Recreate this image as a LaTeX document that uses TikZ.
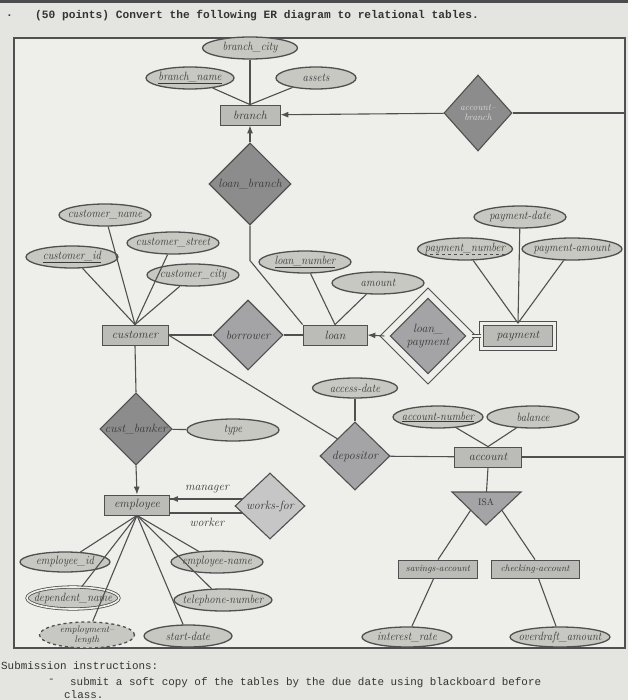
\documentclass[tikz,border=0pt]{standalone}
\usepackage{fontspec}
\usepackage{graphicx}
\setmonofont{Liberation Mono}
\usetikzlibrary{arrows.meta,positioning,calc,backgrounds,shapes.geometric}
\definecolor{page}{HTML}{E4E4E0}
\definecolor{paper}{HTML}{EEEEEA}
\definecolor{entfill}{HTML}{BBBBB7}
\definecolor{attfill}{HTML}{C8C8C2}
\definecolor{reldk}{HTML}{8C8C8C}
\definecolor{relmd}{HTML}{A4A4A6}
\definecolor{rellt}{HTML}{C6C6C6}
\definecolor{ink}{HTML}{505050}
\definecolor{inkt}{HTML}{383838}
\newcommand{\erfont}{\fontsize{12}{13}\selectfont\itshape}
\newcommand{\smfont}{\fontsize{9.5}{10}\selectfont\itshape}
\tikzset{>=Latex,link/.style={draw=ink,line width=1.1pt},arr/.style={link,->},
ent/.style={draw=ink,line width=0.8pt,fill=entfill,minimum width=64,minimum height=20,inner sep=1pt,font=\erfont,text=inkt},
weakent/.style={ent,double=paper,double distance=3pt},
attr/.style={ellipse,draw=ink,line width=1.3pt,fill=attfill,minimum width=92,minimum height=22,inner sep=0pt,font=\erfont,text=inkt,
  execute at begin node={\setbox0=\hbox\bgroup},execute at end node={\egroup\hbox to 0pt{\hss\scalebox{.9}[1]{\box0}\hss}}},
rel/.style={diamond,draw=ink,line width=1.1pt,fill=relmd,minimum width=70,minimum height=70,inner sep=0pt,font=\erfont,text=inkt,align=center},
reldark/.style={rel,fill=reldk},rellight/.style={rel,fill=rellt},
idrel/.style={rel,double=paper,double distance=6pt},
role/.style={font=\erfont,text=inkt,inner sep=1pt},
doc/.style={font=\ttfamily,anchor=west,inner sep=0pt,text=black!80}}

\begin{document}
\begin{tikzpicture}[x=1pt,y=-1pt]
\useasboundingbox (0,0) rectangle (628,700);
\begin{scope}[on background layer]
\fill[page] (0,0) rectangle (628,700);
\fill[black!70] (0,0) rectangle (628,3);
\draw[ink,line width=2.2pt,fill=paper] (14,38) rectangle (625,648);
\end{scope}
\node[doc,font=\ttfamily\bfseries\fontsize{11.2}{12}\selectfont] (dot) at (6,16) {.};
\node[doc,font=\ttfamily\bfseries\fontsize{11.2}{12}\selectfont] (title) at (35,16) {(50 points) Convert the following ER diagram to relational tables.};
\node[doc,font=\ttfamily\fontsize{10.9}{12}\selectfont] (sub) at (1,666) {Submission instructions:};
\node[doc,font=\ttfamily\fontsize{10.9}{12}\selectfont] (dash) at (48,681) {-};
\node[doc,font=\ttfamily\fontsize{10.9}{12}\selectfont] (sub1) at (70,683) {submit a soft copy of the tables by the due date using blackboard before};
\node[doc,font=\ttfamily\fontsize{10.9}{12}\selectfont] (sub2) at (64,695) {class.};

\node[attr,minimum width=95] (bcity) at (250,48) {branch\_city};
\node[attr,minimum width=88] (bname) at (190,78) {\underline{branch\_name}};
\node[attr,minimum width=80] (assets) at (316,78) {assets};
\node[ent,minimum width=60] (branch) at (250,115) {branch};
\node[reldark,minimum width=68,minimum height=76,text=white!85!black,font=\smfont] (acctbr) at (478,113) {account--\\branch};
\coordinate (rside) at (625,113);
\node[reldark,minimum width=82,minimum height=82] (lbranch) at (250,184) {loan\_branch};

\node[attr] (custname) at (105,215) {customer\_name};
\node[attr] (custstreet) at (173,243) {customer\_street};
\node[attr] (custid) at (72,257) {\underline{customer\_id}};
\node[attr] (custcity) at (193,275) {customer\_city};
\node[ent,minimum width=66] (customer) at (135,335) {customer};
\node[rel] (borrower) at (248,335) {borrower};
\node[ent] (loan) at (335,335) {loan};
\node[attr] (lnum) at (305,262) {\underline{loan\_number}};
\node[attr] (amount) at (378,283) {amount};
\node[idrel,minimum width=86,minimum height=86] (lpay) at (428,336) {loan\_\\payment};
\node[weakent,minimum width=73,minimum height=25] (payment) at (518,336) {payment};
\node[attr] (pdate) at (520,217) {payment-date};
\node[attr,minimum width=95] (pnum) at (465,249) {payment\_number};
\node[attr,minimum width=100] (pamt) at (572,249) {payment-amount};

\node[attr,minimum width=85,minimum height=20] (adate) at (355,388) {access-date};
\node[rel,minimum height=68] (depositor) at (355,456) {depositor};
\node[ent,minimum width=67] (account) at (488,457) {account};
\node[attr,minimum width=90] (anum) at (438,417) {\underline{account-number}};
\node[attr] (balance) at (533,417) {balance};
\coordinate (isaL) at (452,492); \coordinate (isaR) at (521,492);
\coordinate (isaB) at (486,525); \coordinate (isaT) at (486.5,492);
\draw[link,fill=relmd] (isaL) -- (isaR) -- (isaB) -- cycle;
\node[font=\fontsize{9.5}{9}\selectfont,text=inkt] (isa) at (486,502) {ISA};
\coordinate (isaLs) at ($(isaL)!.55!(isaB)$); \coordinate (isaRs) at ($(isaR)!.55!(isaB)$);
\node[ent,minimum width=79,minimum height=18,font=\smfont] (savings) at (438,569) {savings-account};
\node[ent,minimum width=88,minimum height=18,font=\smfont] (checking) at (535,569) {checking-account};
\node[attr,minimum width=90,minimum height=20] (irate) at (407,637) {interest\_rate};
\node[attr,minimum width=100,minimum height=20] (odamt) at (560,637) {overdraft\_amount};

\node[reldark,minimum width=72,minimum height=72] (custbank) at (136,429) {cust\_banker};
\node[attr] (type) at (233,430) {type};
\node[ent,minimum width=65] (employee) at (137,505) {employee};
\node[rellight,minimum height=66] (works) at (270,506) {works-for};
\node[role] (manager) at (207,489) {manager};
\node[role] (worker) at (207,522) {worker};
\coordinate (mgr) at (137,499); \coordinate (wkr) at (137,513);
\node[attr,minimum width=90,minimum height=20] (empid) at (65,562) {employee\_id};
\node[attr,line width=0.8pt,double=paper,double distance=1.6pt] (depname) at (73,598) {dependent\_name};
\node[ellipse,draw=ink,line width=1.3pt,fill=attfill,dashed,minimum width=95,minimum height=26,inner sep=0pt,align=center,font=\fontsize{9.5}{8.5}\selectfont\itshape,text=inkt] (emplen) at (87,635) {employment--\\length};
\node[attr] (empname) at (217,562) {employee-name};
\node[attr,minimum width=98] (tel) at (223,600) {telephone-number};
\node[attr,minimum width=88] (sdate) at (188,636) {start-date};

\draw[link,dashed] ([shift={(-41,3)}]pnum.base) -- ([shift={(41,3)}]pnum.base);
\foreach \a in {bcity,bname,assets}{\draw[link] (branch.north) -- (\a);}
\draw[arr] (acctbr) -- (branch);
\draw[link] (acctbr.east) -- (rside) |- (account.east);
\draw[arr] (lbranch.north) -- (branch.south);
\draw[link] (lbranch.south) -- ++(0,35) -- (loan.north west);
\foreach \a in {custname,custstreet,custid,custcity}{\draw[link] (customer.north) -- (\a);}
\draw[link] (customer) -- (borrower); \draw[link] (borrower) -- (loan);
\foreach \a in {lnum,amount}{\draw[link] (loan.north) -- (\a);}
\draw[arr] (lpay.west) -- (loan.east);
\draw[link,double=paper,double distance=2pt] (lpay.east) -- (payment.west);
\foreach \a in {pdate,pnum,pamt}{\draw[link] (payment.north) -- (\a);}
\draw[link] (customer.east) -- (depositor.north west);
\draw[link] (adate) -- (depositor); \draw[link] (depositor) -- (account);
\foreach \a in {anum,balance}{\draw[link] (account.north) -- (\a);}
\draw[link] (account.south) -- (isaT);
\draw[link] (isaLs) -- (savings.north); \draw[link] (isaRs) -- (checking.north);
\draw[link] (savings) -- (irate); \draw[link] (checking) -- (odamt);
\draw[link] (customer.south) -- (custbank.north);
\draw[link] (custbank) -- (type);
\draw[arr] (custbank.south) -- (employee.north);
\foreach \a in {empid,depname,emplen,sdate,tel,empname}{\draw[link] (employee.south) -- (\a);}
\begin{scope}[on background layer]
\draw[link] (works.center |- mgr) -- (mgr);
\draw[link] (works.center |- wkr) -- (wkr);
\end{scope}
\draw[arr] ([xshift=30pt]employee.east |- mgr) -- (employee.east |- mgr);
\end{tikzpicture}
\end{document}
